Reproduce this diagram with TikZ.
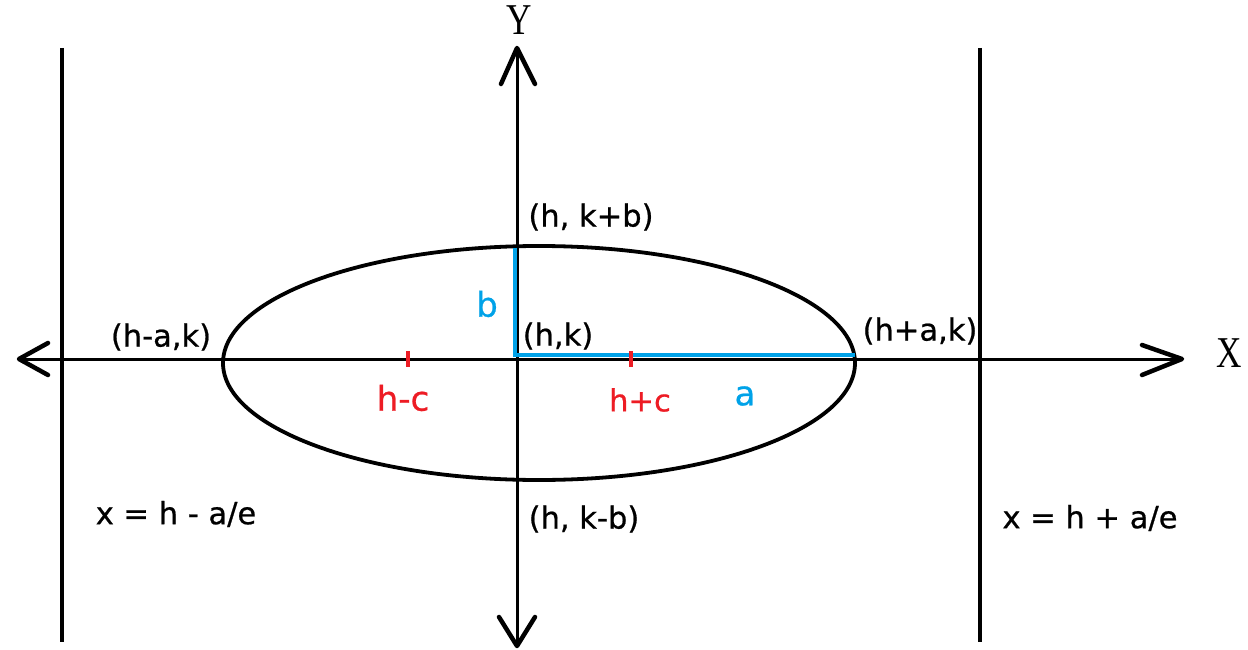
\documentclass[tikz,border=0pt]{standalone}
\usepackage{fontspec}
\setmainfont{DejaVu Sans}[FakeBold=0.7]
\newfontfamily\serifx{Liberation Serif}
\definecolor{pblue}{HTML}{00A2E8}
\definecolor{pred}{HTML}{ED1C24}
\begin{document}
\begin{tikzpicture}[x=1pt,y=-1pt,
  lbl/.style={inner sep=0pt, font=\fontsize{30.5}{36}\selectfont},
  biglbl/.style={inner sep=0pt, font=\fontsize{34}{40}\selectfont},
  axlbl/.style={inner sep=0pt, font=\serifx\fontsize{44}{50}\selectfont},
  axisline/.style={line width=3pt},
  barb/.style={line width=4.5pt, line cap=round, line join=round},
  directrix/.style={line width=4pt},
  curve/.style={line width=3.8pt},
  seg/.style={pblue, line width=4.5pt},
  tick/.style={pred, line width=4pt}]
\useasboundingbox (0,0) rectangle (1248,650);
% axes
\coordinate (L) at (19,359);
\coordinate (R) at (1182,359);
\coordinate (T) at (517,48);
\coordinate (B) at (517,646);
\draw[axisline] (L) -- (R);
\draw[axisline] (T) -- (B);
\draw[barb] (48,343) -- (L) -- (48,375);
\draw[barb] (1142,345) -- (R) -- (1142,375);
\draw[barb] (501,84) -- (T) -- (535,84);
\draw[barb] (499,617) -- (B) -- (535,617);
% directrices
\coordinate (D1t) at (62,48);
\coordinate (D1b) at (62,642);
\coordinate (D2t) at (980,48);
\coordinate (D2b) at (980,642);
\draw[directrix] (D1t) -- (D1b);
\draw[directrix] (D2t) -- (D2b);
% ellipse
\draw[curve] (539,363) ellipse [x radius=316, y radius=117];
% semi-axes
\coordinate (Top) at (515,248);
\coordinate (C) at (515,355);
\coordinate (Rt) at (855,355);
\draw[seg] (Top) -- (C) -- (Rt);
% foci ticks
\draw[tick] (408,351) -- (408,367);
\draw[tick] (631,351) -- (631,367);
% labels
\node[lbl] (hkb) at (591,217) {(h, k+b)};
\node[lbl] (hk) at (558,336) {(h,k)};
\node[biglbl, text=pblue] (bl) at (487,304) {b};
\node[lbl] (hak) at (161,337) {(h-a,k)};
\node[lbl] (hpak) at (920,331) {(h+a,k)};
\node[biglbl, text=pred] (hmc) at (403,398) {h-c};
\node[lbl, text=pred] (hpc) at (640,400) {h+c};
\node[biglbl, text=pblue] (al) at (745,396) {a};
\node[lbl] (hkmb) at (584,519) {(h, k-b)};
\node[lbl] (dl) at (176,514) {x = h - a/e};
\node[lbl] (dr) at (1090,518) {x = h + a/e};
\node[axlbl] (Xl) at (1229,353) {\scalebox{0.8}[1]{X}};
\node[axlbl] (Yl) at (519,20) {\scalebox{0.8}[1]{Y}};
\end{tikzpicture}
\end{document}
